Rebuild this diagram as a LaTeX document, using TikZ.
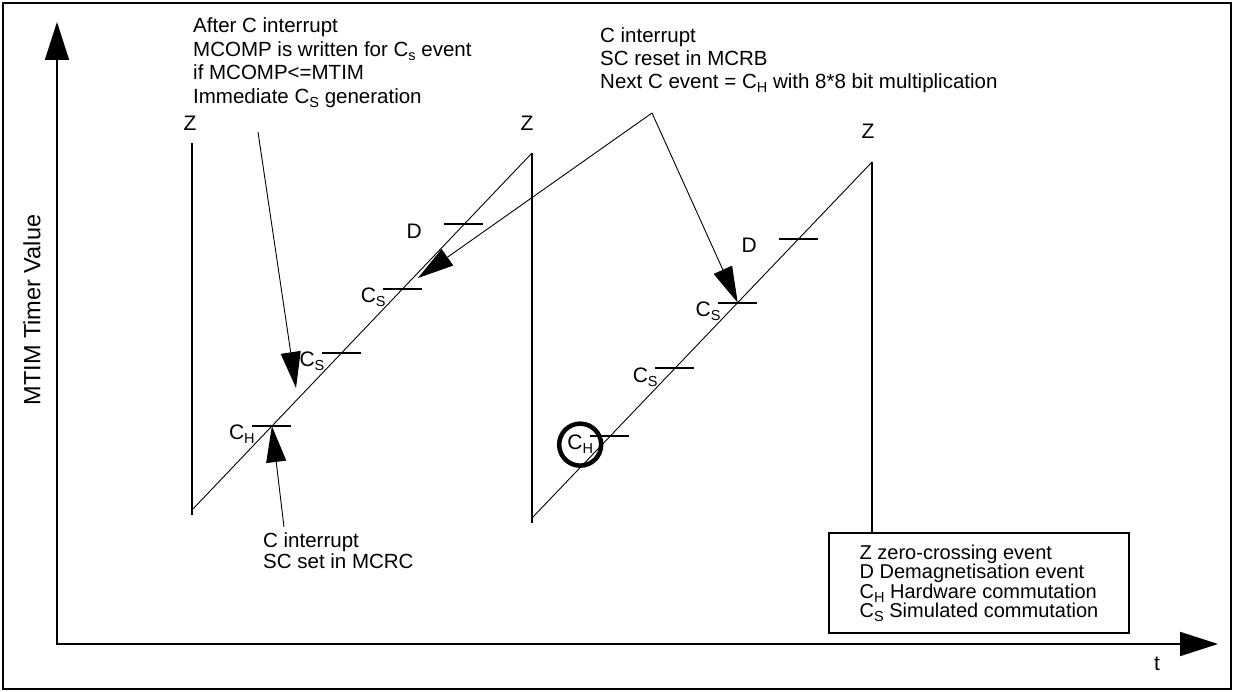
\documentclass[tikz,border=0pt]{standalone}
\usepackage{fontspec}
\setmainfont{Liberation Sans}
\usetikzlibrary{arrows.meta}
\newcommand{\ftx}[1]{\fontsize{20.5}{#1}\selectfont}
\newcommand{\lowidx}[1]{\raisebox{-4pt}{\fontsize{14.5}{14.5}\selectfont #1}}

\begin{document}
\begin{tikzpicture}[
  x=1pt, y=-1pt,
  >={Triangle[length=36pt, width=20pt]},
  saw/.style={line width=1.6pt},
  ramp/.style={line width=0.9pt},
  tick/.style={line width=2pt},
  lbl/.style={font=\fontsize{21}{22}\selectfont, inner sep=0pt},
  note/.style={inner sep=0pt, align=left, anchor=north west},
  ptr/.style={->, line width=0.9pt},
  axis/.style={line width=1.8pt, arrows={Triangle[length=38pt, width=24pt]-Triangle[length=38pt, width=24pt]}},
]
  \useasboundingbox (0,0) rectangle (1234,692);
  \draw[line width=2.5pt] (3,3) rectangle (1231,689);

  % ---------------- axes
  \coordinate (org) at (57,644);
  \coordinate (ytip) at (57,22);
  \coordinate (xtip) at (1218,644);
  \draw[axis] (ytip) -- (org) -- (xtip);
  \node[font=\fontsize{23.5}{24}\selectfont, rotate=90] (ylbl) at (32,310) {MTIM Timer Value};
  \node[lbl] (tlbl) at (1157,664) {t};

  % ---------------- legend
  \node[draw, line width=2pt, minimum width=300pt, minimum height=100pt, align=left, font=\fontsize{20}{18.5}\selectfont, inner sep=0pt] (legend) at (979,583)
    {Z zero-crossing event\\D Demagnetisation event\\C\lowidx{H} Hardware commutation\\C\lowidx{S} Simulated commutation};

  % ---------------- sawtooth
  \coordinate (z1t) at (192,143); \coordinate (z1b) at (192,515); \coordinate (r1s) at (192,510);
  \coordinate (z2t) at (532,153); \coordinate (z2b) at (532,523); \coordinate (r2s) at (532,518);
  \coordinate (z3t) at (872,162);
  \draw[saw] (z1t) -- (z1b);
  \draw[saw] (z2t) -- (z2b);
  \draw[saw] (z3t) -- (z3t |- legend.north);
  \draw[ramp] (r1s) -- (z2t);
  \draw[ramp] (r2s) -- (z3t);
  \node[lbl] (z1) at (190,123) {Z};
  \node[lbl] (z2) at (527,123) {Z};
  \node[lbl] (z3) at (868,131) {Z};

  % ---------------- events on the ramps
  \path (r1s) -- (z2t) coordinate[pos=0.235] (h1) coordinate[pos=0.44] (sa1) coordinate[pos=0.62] (sb1) coordinate[pos=0.80] (d1);
  \path (r2s) -- (z3t) coordinate[pos=0.23] (h2) coordinate[pos=0.42] (sa2) coordinate[pos=0.605] (sb2) coordinate[pos=0.785] (d2);
  \foreach \p in {h1,sa1,sb1,d1,h2,sa2,sb2,d2}
    \draw[tick] ([xshift=-20pt]\p) -- ([xshift=19pt]\p);
  \foreach \p/\t in {h1/H, sa1/S, sb1/S, h2/H, sa2/S, sb2/S}
    \node[lbl, anchor=north east] (l\p) at ([xshift=-17pt, yshift=1pt]\p) {C\lowidx{\t}};
  \foreach \p in {d1,d2}
    \node[lbl, anchor=north east] (l\p) at ([xshift=-42pt, yshift=1pt]\p) {D};
  \draw[line width=4.5pt] (lh2.center) circle (21pt);

  % ---------------- notes
  \node[note, font=\ftx{23.7}] (ann1) at (193,17.5)
    {After C interrupt\\MCOMP is written for C\lowidx{s} event\\if MCOMP<=MTIM\\Immediate C\lowidx{S} generation};
  \node[note, font=\ftx{23}] (ann2) at (600,27)
    {C interrupt\\SC reset in MCRB\\Next C event = C\lowidx{H} with 8*8 bit multiplication};
  \node[note, font=\ftx{21}] (ann3) at (263,532.5) {C interrupt\\SC set in MCRC};

  \coordinate (a1s) at (258,132);
  \coordinate (a1e) at (296,388);
  \coordinate (apex) at (652,113);
  \coordinate (hit1) at (418,278);
  \coordinate (a3s) at (284,527);
  \draw[ptr] (a1s) -- (a1e);
  \draw[ptr] (apex) -- (hit1);
  \draw[ptr] (apex) -- (sb2);
  \draw[ptr] (a3s) -- (h1);
\end{tikzpicture}
\end{document}
